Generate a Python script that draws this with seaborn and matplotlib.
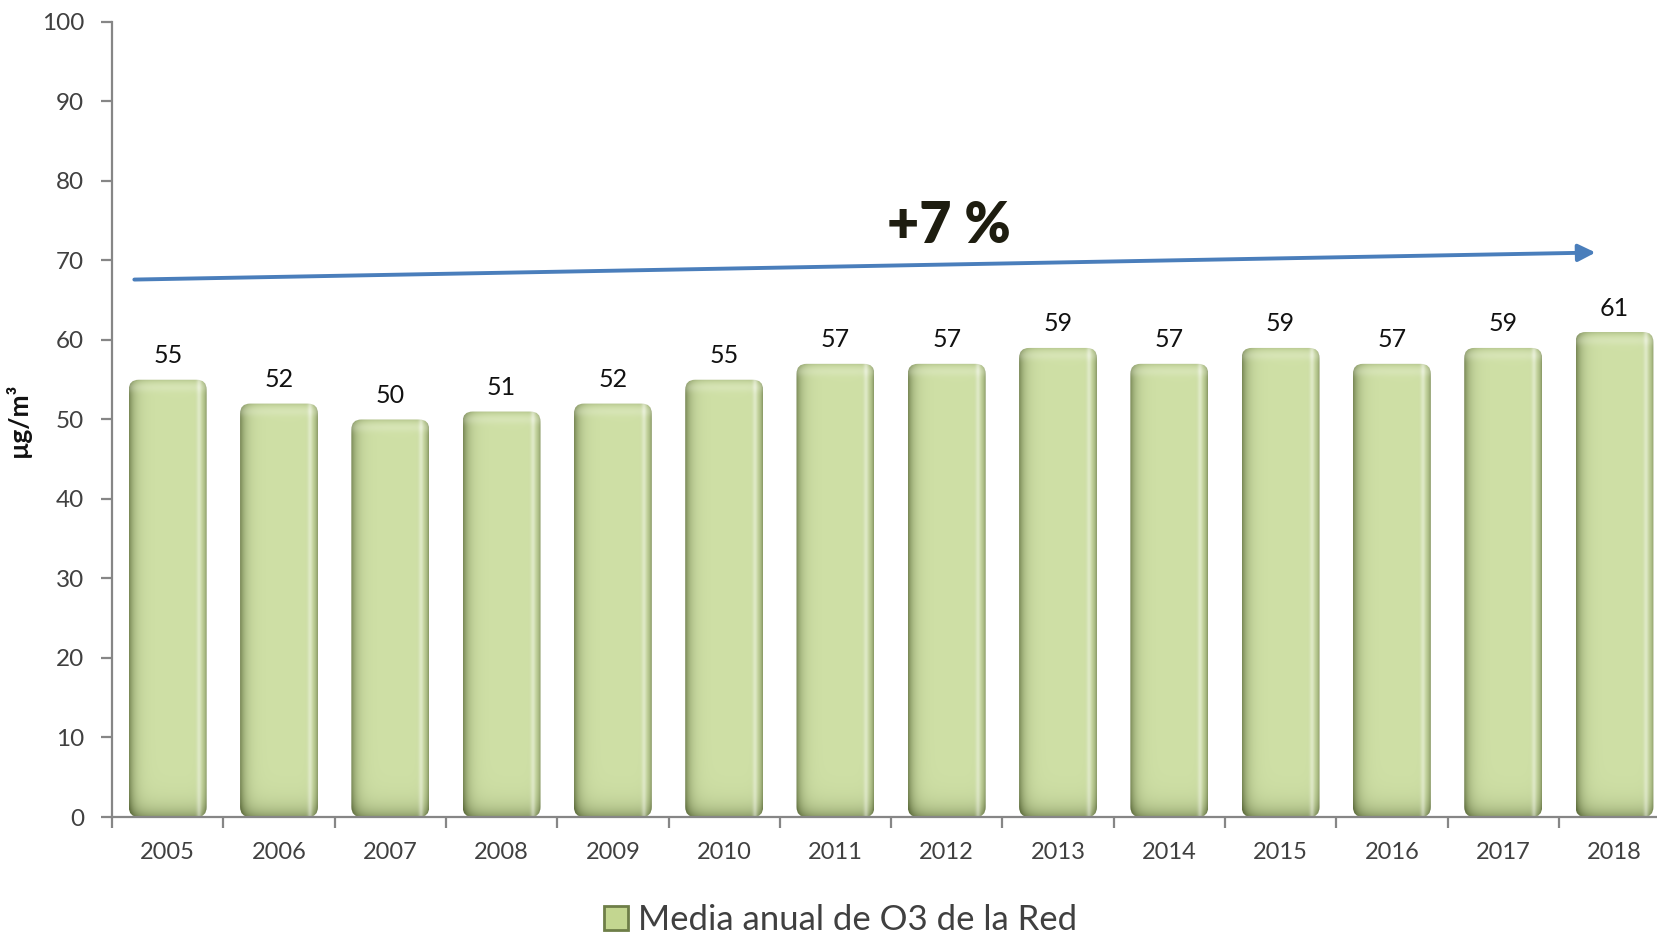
import numpy as np
import pandas as pd
import matplotlib
matplotlib.use("Agg")
import matplotlib.pyplot as plt
import seaborn as sns
from matplotlib.patches import FancyBboxPatch, Patch
from matplotlib.colors import to_rgb

# ---- data ----
years = ["2005", "2006", "2007", "2008", "2009", "2010", "2011",
         "2012", "2013", "2014", "2015", "2016", "2017", "2018"]
values = [55, 52, 50, 51, 52, 55, 57, 57, 59, 57, 59, 57, 59, 61]
series_name = "Media anual de O3 de la Red"
y_label = "µg/m³"
y_ticks = [0, 10, 20, 30, 40, 50, 60, 70, 80, 90, 100]
trend_label = "+7 %"
trend_x = [-0.30, 12.83]
trend_y = [67.6, 71.0]
trend_text_pos = (7.02, 74.3)

df = pd.DataFrame({"year": years, "value": values})

sns.set_theme(style="white")
plt.rcParams["font.family"] = ["Lato", "DejaVu Sans"]

fig = plt.figure(figsize=(16.58, 9.35), dpi=100)
ax = fig.add_axes([0.0676, 0.1262, 0.9397, 0.8503])

BAR_COLOR = "#CFE0A6"
sns.barplot(data=df, x="year", y="value", color=BAR_COLOR, width=0.70,
            saturation=1, ax=ax, zorder=2)

# ---- styled bars: rounded with shading ----
base = np.array(to_rgb(BAR_COLOR))
dark = np.array([0.38, 0.44, 0.25])
for p in list(ax.patches):
    x0, y0 = p.get_x(), p.get_y()
    w, h = p.get_width(), p.get_height()
    p.set_visible(False)
    rs = 0.09
    fb = FancyBboxPatch((x0, y0), w, h,
                        boxstyle=f"round,pad=0,rounding_size={rs}",
                        mutation_aspect=14, facecolor="none",
                        edgecolor="none", zorder=2)
    ax.add_patch(fb)
    nx, ny = 200, 600
    t = np.linspace(0, 1, nx)[None, :]
    yy = np.linspace(h, 0, ny)[:, None]
    shade = (0.8 * np.exp(-t / 0.075) + 0.65 * np.exp(-(1 - t) / 0.04)
             + 0.6 * np.exp(-yy / 1.2) + 0.25 * np.exp(-(h - yy) / 0.35))
    hl = (0.40 * np.exp(-((t - 0.90) / 0.03) ** 2)
          + 0.18 * np.exp(-((h - yy - 1.0) / 0.6) ** 2))
    shade = np.clip(shade, 0, 1)
    img = base[None, None, :] * (1 - shade[..., None]) + dark[None, None, :] * shade[..., None]
    img = img + (1 - img) * np.clip(hl, 0, 1)[..., None]
    im = ax.imshow(np.clip(img, 0, 1), extent=(x0, x0 + w, y0, y0 + h),
                   aspect="auto", zorder=2, interpolation="bilinear")
    im.set_clip_path(fb)

# data labels
for i, v in enumerate(values):
    ax.annotate(str(v), (i, v), xytext=(0, 9), textcoords="offset points",
                ha="center", va="bottom", fontsize=18, color="#111111")

# trend arrow
ax.annotate("", xy=(trend_x[1], trend_y[1]), xytext=(trend_x[0], trend_y[0]),
            arrowprops=dict(arrowstyle="-|>", color="#4A7EBB", lw=2.8,
                            mutation_scale=26, shrinkA=0, shrinkB=0), zorder=4)
ax.text(trend_text_pos[0], trend_text_pos[1], trend_label, ha="center",
        va="center", fontsize=40, fontweight="heavy", color="#1E1D10")

# axes styling
ax.set_xlim(-0.5, len(years) - 0.5)
ax.set_ylim(0, 100)
ax.set_yticks(y_ticks)
ax.set_xlabel("")
ax.set_ylabel(y_label, fontsize=19, fontweight="bold", color="#111111", labelpad=8)
for s in ["top", "right"]:
    ax.spines[s].set_visible(False)
for s in ["left", "bottom"]:
    ax.spines[s].set_color("#868686")
    ax.spines[s].set_linewidth(1.6)
ax.tick_params(axis="y", which="major", length=8, width=1.6, color="#868686",
               direction="out", labelsize=17.5, labelcolor="#404040", pad=12, left=True)
ax.set_xticks(np.arange(-0.5, len(years), 1), minor=True)
ax.tick_params(axis="x", which="major", length=0, labelsize=17,
               labelcolor="#404040", pad=18)
ax.tick_params(axis="x", which="minor", length=8, width=1.6, color="#868686",
               direction="out", bottom=True)
ax.grid(False)

handle = Patch(facecolor="#C3D690", edgecolor="#6E7E48", linewidth=2)
fig.legend(handles=[handle], labels=[series_name], loc="center",
           bbox_to_anchor=(0.507, 0.016), frameon=False, fontsize=25,
           handlelength=0.7, handleheight=0.7, handletextpad=0.3,
           labelcolor="#404040")

fig.savefig("out.png", dpi=100)
